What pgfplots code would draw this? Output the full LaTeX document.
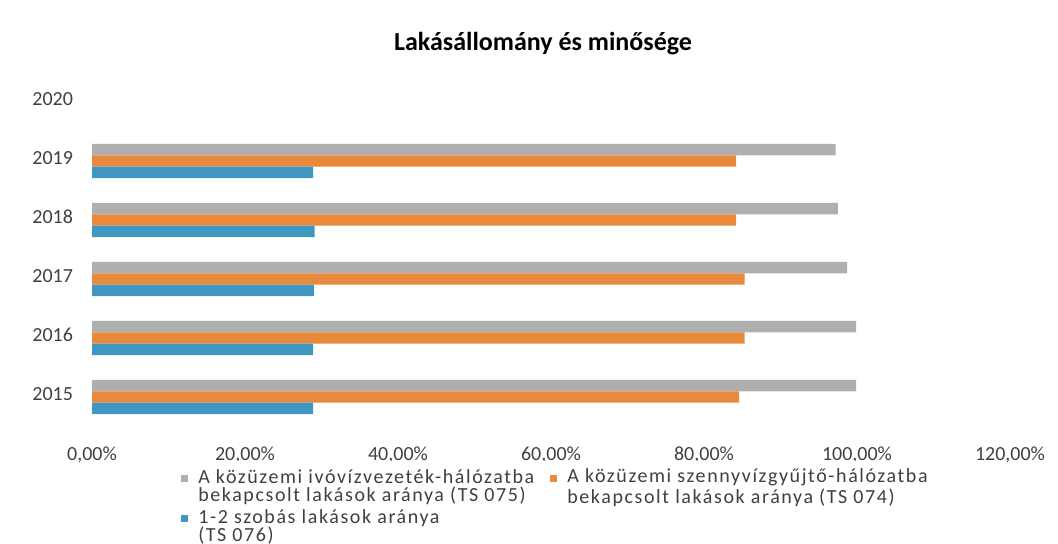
\documentclass[border=0pt]{standalone}
\usepackage{pgfplots}
\pgfplotsset{compat=1.18}
\usepackage{fontspec}
\setmainfont{Carlito}
\newfontfamily\legfont[LetterSpace=8]{Carlito}
\definecolor{cgray}{RGB}{175,175,175}
\definecolor{corange}{RGB}{232,137,60}
\definecolor{cblue}{RGB}{66,150,194}
\begin{document}
\begin{tikzpicture}
\path[use as bounding box] (-46pt,-60.25pt) rectangle (483pt,211.75pt);
\clip (-46pt,-60.25pt) rectangle (483pt,211.75pt);
\begin{axis}[
  scale only axis,
  width=459pt, height=177pt,
  xmin=0, xmax=120,
  ymin=2014.5, ymax=2020.5,
  xtick={0,20,...,120},
  xticklabels={{0,00\%},{20,00\%},{40,00\%},{60,00\%},{80,00\%},{100,00\%},{120,00\%}},
  ytick={2015,2016,2017,2018,2019,2020},
  yticklabels={2015,2016,2017,2018,2019,2020},
  /pgf/number format/assume math mode=true,
  axis line style={draw=none},
  major tick length=0pt,
  tick label style={font=\fontsize{10}{12}\selectfont, text=black!75},
  yticklabel style={xshift=-6pt},
  xticklabel style={yshift=-8pt},
  title={Lakásállomány és minősége},
  title style={font=\bfseries\fontsize{13}{15}\selectfont, yshift=-2pt, xshift=-4pt},
  xbar, bar width=5.7pt,
  legend columns=2,
  legend style={draw=none, at={(0.0903,-0.105)}, anchor=north west,
    font=\legfont\fontsize{10}{9}\selectfont, text=black!75,
    cells={anchor=west, align=left},
    /tikz/every odd column/.append style={column sep=3pt},
    /tikz/every even column/.append style={column sep=6pt},
    row sep=-2pt},
  legend image code/.code={\path[fill=none,draw=none] (0pt,-6.25pt) rectangle (3.5pt,6.25pt);
    \fill[#1] (0pt,2.75pt) rectangle (3.5pt,6.25pt);},
]
\addplot[draw=none, fill=cgray, bar shift=4.2pt] coordinates {
 (99.9,2015) (99.9,2016) (98.7,2017) (97.5,2018) (97.2,2019)};
\addlegendentry{A közüzemi ivóvízvezeték-hálózatba\\bekapcsolt lakások aránya (TS 075)}
\addplot[draw=none, fill=corange, bar shift=-1.5pt] coordinates {
 (84.6,2015) (85.3,2016) (85.3,2017) (84.2,2018) (84.2,2019)};
\addlegendentry{A közüzemi szennyvízgyűjtő-hálózatba\\bekapcsolt lakások aránya (TS 074)}
\addplot[draw=none, fill=cblue, bar shift=-7.2pt] coordinates {
 (28.9,2015) (28.9,2016) (29.0,2017) (29.1,2018) (28.9,2019)};
\addlegendentry{1-2 szobás lakások aránya\\(TS 076)}
\end{axis}
\end{tikzpicture}
\end{document}
